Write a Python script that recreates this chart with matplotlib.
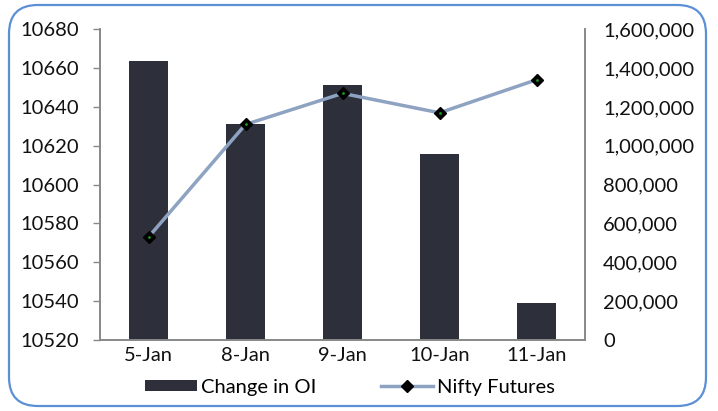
import numpy as np
import matplotlib
matplotlib.use('Agg')
import matplotlib.pyplot as plt
from matplotlib.patches import FancyBboxPatch
from matplotlib.ticker import FuncFormatter

plt.rcParams['font.family'] = ['Lato', 'DejaVu Sans']

# data
dates = ['5-Jan', '8-Jan', '9-Jan', '10-Jan', '11-Jan']
change_in_oi = [1438000, 1111000, 1312000, 959000, 190000]
nifty_futures = [10573, 10631, 10647, 10637, 10654]

fs = 14.5

fig = plt.figure(figsize=(7.18, 4.11), dpi=100)
ax = fig.add_axes([100/718, 1-340/411, 485/718, 310.7/411])
ax2 = ax.twinx()

x = np.arange(len(dates))

# bars on the right axis
ax2.bar(x, change_in_oi, width=0.4, color='#2d2f3a', label='Change in OI', zorder=1)
ax2.set_ylim(0, 1600000)
ax2.set_yticks(np.arange(0, 1600001, 200000))
ax2.yaxis.set_major_formatter(FuncFormatter(lambda v, p: f'{int(v):,}'))
ax2.tick_params(axis='y', length=0, labelsize=fs, pad=13, colors='#111111')

# line on the left axis, drawn above the bars
ax.set_zorder(ax2.get_zorder() + 1)
ax.patch.set_visible(False)
ax.plot(x, nifty_futures, color='#8ea3c2', lw=2.5, marker='D', ms=6,
        mfc='black', mec='black', label='Nifty Futures', zorder=3)
ax.plot(x, nifty_futures, ls='none', marker='.', ms=2, color='#1a9a1a', zorder=4)
ax.set_ylim(10520, 10680)
ax.set_yticks(np.arange(10520, 10681, 20))
ax.set_xlim(-0.5, len(dates) - 0.5)
ax.set_xticks(x)
ax.set_xticklabels(dates)
ax.tick_params(axis='y', length=5, width=1, labelsize=fs, pad=10, colors='#111111')
ax.tick_params(axis='y', color='#888888')
ax.tick_params(axis='x', length=0, labelsize=fs, pad=5, colors='#111111')

for a in (ax, ax2):
    a.spines['top'].set_visible(False)
    for s in ('left', 'right', 'bottom'):
        a.spines[s].set_color('#888888')
        a.spines[s].set_linewidth(1.2)
ax2.tick_params(axis='x', length=0)

# legend at the bottom
h1, l1 = ax2.get_legend_handles_labels()
h2, l2 = ax.get_legend_handles_labels()
fig.legend(h1 + h2, l1 + l2, loc='center', bbox_to_anchor=(350/718, 1-387/411),
           ncol=2, frameon=False, fontsize=fs, handlelength=2.6, handleheight=0.5,
           handletextpad=0.2, columnspacing=3.2)

# rounded outer frame
frame = FancyBboxPatch((9/718, 5/411), 697/718, 401/411,
                       boxstyle='round,pad=0,rounding_size=0.04',
                       transform=fig.transFigure, fill=False,
                       ec='#5b8fd6', lw=1.6, mutation_aspect=718/411)
fig.patches.append(frame)

fig.savefig('out.png', dpi=100)
